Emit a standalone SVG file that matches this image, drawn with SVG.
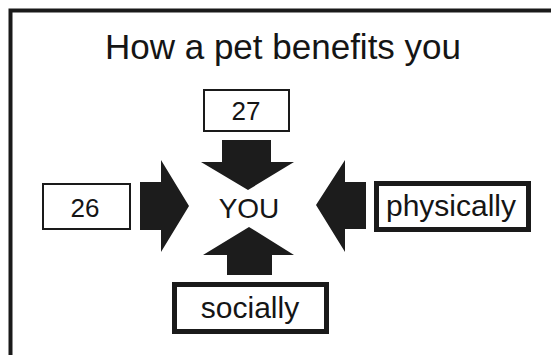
<svg xmlns="http://www.w3.org/2000/svg" width="551" height="355" viewBox="0 0 551 355">
<style>
.t{font-family:"Liberation Sans",Arial,sans-serif;fill:#151515;text-anchor:middle}
.thin{fill:#fff;stroke:#1a1a1a;stroke-width:2}
.thick{fill:#fff;stroke:#1a1a1a;stroke-width:5}
.arr{fill:#1c1c1c;stroke:none}
</style>
<rect width="551" height="355" fill="#fff"/>
<path d="M10.5,355 V10.5 H551" fill="none" stroke="#1a1a1a" stroke-width="4"/>
<text class="t" x="283" y="59" font-size="35">How a pet benefits you</text>
<g id="connectors">
<polygon class="arr" points="222,140 271,140 271,162 294,162 248,190 201,162 222,162"/>
<polygon class="arr" points="140,182 161,182 161,160 189,206 161,252 161,230 140,230"/>
<polygon class="arr" points="366,182 345,182 345,160 316,205 345,252 345,229 366,229"/>
<polygon class="arr" points="227,275 272,275 272,255 294,255 249,227 203,255 227,255"/>
</g>
<g id="n27">
<rect class="thin" x="204" y="90" width="85" height="41"/>
<text class="t" x="246" y="120" font-size="26">27</text>
</g>
<g id="n26">
<rect class="thin" x="43" y="184" width="87" height="45"/>
<text class="t" x="85" y="217" font-size="26">26</text>
</g>
<g id="nyou">
<text class="t" x="249" y="218" font-size="28">YOU</text>
</g>
<g id="nphys">
<rect class="thick" x="376.5" y="183.5" width="152" height="46"/>
<text class="t" x="451" y="216" font-size="30">physically</text>
</g>
<g id="nsoc">
<rect class="thick" x="174.5" y="284.5" width="152" height="47"/>
<text class="t" x="250" y="318" font-size="30">socially</text>
</g>
</svg>
